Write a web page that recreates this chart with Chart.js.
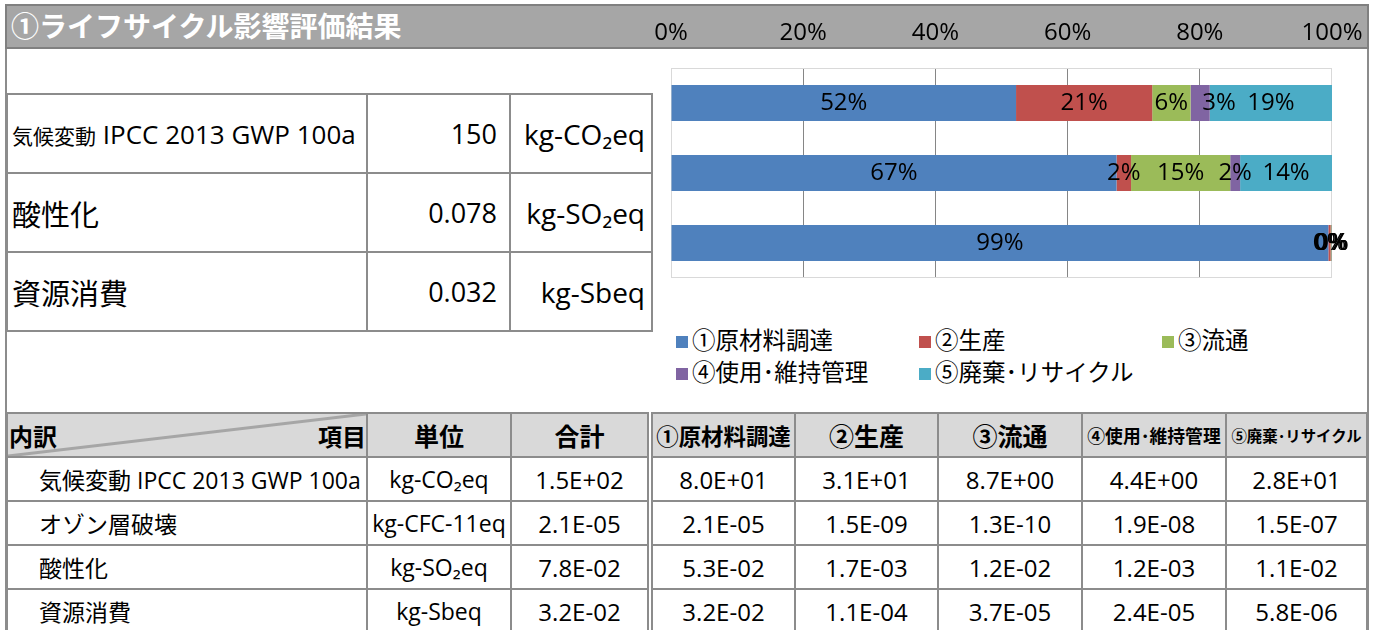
<!DOCTYPE html>
<html lang="ja">
<head>
<meta charset="utf-8">
<script src="https://cdn.jsdelivr.net/npm/chart.js@4.4.1/dist/chart.umd.min.js"></script>
<style>
  body { margin:0; width:1375px; height:630px; overflow:hidden; background:#fff; position:relative;
         font-family:"Open Sans","Noto Sans CJK JP",sans-serif; color:#000; }
  .frame { position:absolute; left:5px; top:4px; width:1360px; height:700px; border:2px solid #8c8c8c; border-bottom:none; }
  .head { position:absolute; left:5px; top:4px; width:1360px; height:41px; background:#a6a6a6; border:2px solid #808080; }
  .title { position:absolute; left:4px; top:0; font-size:28px; line-height:40px; font-weight:bold; color:#fff; white-space:nowrap; }
  table { position:absolute; border-collapse:collapse; table-layout:fixed; }
  td { border:2px solid #8c8c8c; padding:0; white-space:nowrap; overflow:hidden; }
  #summary { left:6px; top:93px; }
  #summary td { height:77px; }
  #detail { left:6px; top:412px; }
  #detail td { height:42px; text-align:center; font-size:24px; }
  #detail tr.hd td { background:#d9d9d9; font-weight:bold; }
  .diag { background:linear-gradient(to bottom right, #d9d9d9 calc(50% - 2px), #a6a6a6 calc(50% - 1px), #a6a6a6 calc(50% + 1px), #d9d9d9 calc(50% + 2px)) !important; }
  .diag div { display:flex; justify-content:space-between; padding:0 0 0 1px; font-size:24px; }
  #legend { position:absolute; left:676px; top:325px; width:700px; }
  .li { position:absolute; font-size:23.5px; line-height:30px; white-space:nowrap; }
  .li span { display:inline-block; width:12px; height:12px; margin-right:4px; vertical-align:1px; }
  #wrap { position:absolute; left:600px; top:-2px; width:800px; height:292px; }
</style>
</head>
<body>
<div class="frame"></div>
<div class="head"><div class="title">①ライフサイクル影響評価結果</div></div>
<table id="summary"></table>
<div id="legend"></div>
<table id="detail"></table>
<div id="wrap"><canvas id="lcaChart" width="800" height="292"></canvas></div>
<script>
// 上段グラフ: 各段階の割合(%)
const chartCategories = ['気候変動 IPCC 2013 GWP 100a', '酸性化', '資源消費'];
const stageNames = ['①原材料調達', '②生産', '③流通', '④使用･維持管理', '⑤廃棄･リサイクル'];
const stageColors = ['#4f81bd', '#c0504d', '#9bbb59', '#8064a2', '#4bacc6'];
const rawMaterialPct = [52.2, 67.4, 99.45];
const productionPct = [20.6, 2.2, 0.34];
const distributionPct = [5.8, 15.0, 0.12];
const usePct = [2.9, 1.5, 0.07];
const disposalPct = [18.5, 13.9, 0.02];
const xTicks = [0, 20, 40, 60, 80, 100];

// 左上の合計表
const summaryNames = ['気候変動 IPCC 2013 GWP 100a', '酸性化', '資源消費'];
const summaryTotals = ['150', '0.078', '0.032'];
const summaryUnits = ['kg-CO₂eq', 'kg-SO₂eq', 'kg-Sbeq'];

// 下段の内訳表
const impactNames = ['気候変動 IPCC 2013 GWP 100a', 'オゾン層破壊', '酸性化', '資源消費'];
const impactUnits = ['kg-CO₂eq', 'kg-CFC-11eq', 'kg-SO₂eq', 'kg-Sbeq'];
const impactTotals = ['1.5E+02', '2.1E-05', '7.8E-02', '3.2E-02'];
const rawMaterialVals = ['8.0E+01', '2.1E-05', '5.3E-02', '3.2E-02'];
const productionVals = ['3.1E+01', '1.5E-09', '1.7E-03', '1.1E-04'];
const distributionVals = ['8.7E+00', '1.3E-10', '1.2E-02', '3.7E-05'];
const useVals = ['4.4E+00', '1.9E-08', '1.2E-03', '2.4E-05'];
const disposalVals = ['2.8E+01', '1.5E-07', '1.1E-02', '5.8E-06'];

// 和文部分だけ別サイズにする
function mixText(s, cjkPx) {
  return s.replace(/([\u2460-\u24ff\u3000-\u9fff\uff00-\uffef]+)/g, '<span style="font-size:' + cjkPx + 'px">$1</span>');
}

// --- 合計表 ---
const summary = document.getElementById('summary');
let html = '<colgroup><col style="width:360px"><col style="width:143px"><col style="width:142px"></colgroup>';
summaryNames.forEach((n, i) => {
  const cell = n.length > 10
    ? '<td style="font-size:26px;padding-left:4px">' + mixText(n, 21) + '</td>'
    : '<td style="font-size:29px;padding-left:4px">' + n + '</td>';
  html += '<tr>' + cell +
    '<td style="font-size:27px;text-align:right;padding-right:12px">' + summaryTotals[i] + '</td>' +
    '<td style="font-size:28px;text-align:right;padding-right:6px">' + summaryUnits[i] + '</td></tr>';
});
summary.innerHTML = html;

// --- 凡例 ---
const legend = document.getElementById('legend');
stageNames.forEach((n, i) => {
  const d = document.createElement('div');
  d.className = 'li';
  d.style.left = (i % 3) * 243 + 'px';
  d.style.top = Math.floor(i / 3) * 32 + 'px';
  d.innerHTML = '<span style="background:' + stageColors[i] + '"></span>' + n;
  legend.appendChild(d);
});

// --- 内訳表 ---
const detail = document.getElementById('detail');
const stageVals = [rawMaterialVals, productionVals, distributionVals, useVals, disposalVals];
const widths = [360, 144, 139, 145, 143, 144, 144, 141];
html = '<colgroup>' + widths.map(w => '<col style="width:' + w + 'px">').join('') + '</colgroup>';
html += '<tr class="hd"><td class="diag" style="text-align:left"><div><span>内訳</span><span>項目</span></div></td>' +
  '<td style="font-size:25px">単位</td><td style="font-size:25px">合計</td>';
stageNames.forEach((n, i) => {
  // セル幅に収まる文字サイズ(半角中黒は0.5文字)
  const len = n.length - (n.split('･').length - 1) * 0.5;
  const fs = Math.min(25, Math.floor(widths[i + 3] * 0.93 / len * 10) / 10);
  const dbl = i === 0 ? 'border-left:6px double #8c8c8c;' : '';
  html += '<td style="' + dbl + 'font-size:' + fs + 'px">' + n + '</td>';
});
html += '</tr>';
impactNames.forEach((n, r) => {
  html += '<tr><td style="text-align:left;padding-left:31px;font-size:23px">' + n + '</td>' +
    '<td style="font-size:23px">' + impactUnits[r] + '</td><td>' + impactTotals[r] + '</td>';
  stageVals.forEach((v, i) => {
    const dbl = i === 0 ? ' style="border-left:6px double #8c8c8c"' : '';
    html += '<td' + dbl + '>' + v[r] + '</td>';
  });
  html += '</tr>';
});
detail.innerHTML = html;

// --- グラフ ---
// 値ラベル: 区間の中央に描き、前のラベルと重なるときは右へずらす(1%未満は重ねたまま)
const barLabels = {
  id: 'barLabels',
  afterDatasetsDraw(chart) {
    const ctx = chart.ctx;
    ctx.save();
    ctx.font = '24px "Open Sans", "Noto Sans CJK JP"';
    ctx.fillStyle = '#000';
    ctx.textAlign = 'center';
    ctx.textBaseline = 'middle';
    chart.data.labels.forEach((lab, j) => {
      let prevRight = -Infinity;
      chart.data.datasets.forEach((ds, i) => {
        const bar = chart.getDatasetMeta(i).data[j];
        const p = bar.getProps(['x', 'y', 'base'], true);
        const txt = Math.round(ds.data[j]) + '%';
        const w = ctx.measureText(txt).width;
        let cx = (p.x + p.base) / 2;
        if (ds.data[j] >= 1 && cx - w / 2 < prevRight) cx = prevRight + 14 + w / 2;
        ctx.fillText(txt, cx, p.y);
        prevRight = cx + w / 2;
      });
    });
    ctx.restore();
  }
};

const plotFrame = {
  id: 'plotFrame',
  beforeDatasetsDraw(chart) {
    const a = chart.chartArea;
    const ctx = chart.ctx;
    ctx.save();
    ctx.strokeStyle = '#d9d9d9';
    ctx.lineWidth = 1;
    ctx.strokeRect(a.left + 0.5, a.top + 0.5, a.right - a.left - 1, a.bottom - a.top - 1);
    ctx.restore();
  }
};

const pctSeries = [rawMaterialPct, productionPct, distributionPct, usePct, disposalPct];

new Chart(document.getElementById('lcaChart'), {
  type: 'bar',
  data: {
    labels: chartCategories,
    datasets: stageNames.map((n, i) => ({
      label: n,
      data: pctSeries[i],
      backgroundColor: stageColors[i],
      borderWidth: 0,
      categoryPercentage: 1,
      barPercentage: 0.515
    }))
  },
  options: {
    indexAxis: 'y',
    responsive: false,
    animation: false,
    layout: { padding: { left: 71, right: 68, top: 0, bottom: 12 } },
    plugins: { legend: { display: false }, tooltip: { enabled: false } },
    scales: {
      x: {
        position: 'top',
        stacked: true,
        min: 0,
        max: 100,
        afterBuildTicks: axis => { axis.ticks = xTicks.map(v => ({ value: v })); },
        ticks: {
          padding: 23,
          color: '#000',
          font: { size: 24, lineHeight: 1, family: '"Open Sans", "Noto Sans CJK JP"' },
          callback: v => v + '%'
        },
        grid: {
          drawTicks: false,
          color: c => (c.tick && (c.tick.value === 0 || c.tick.value === 100)) ? 'rgba(0,0,0,0)' : '#868686'
        },
        border: { display: false }
      },
      y: { stacked: true, display: false }
    }
  },
  plugins: [plotFrame, barLabels]
});
</script>
</body>
</html>
